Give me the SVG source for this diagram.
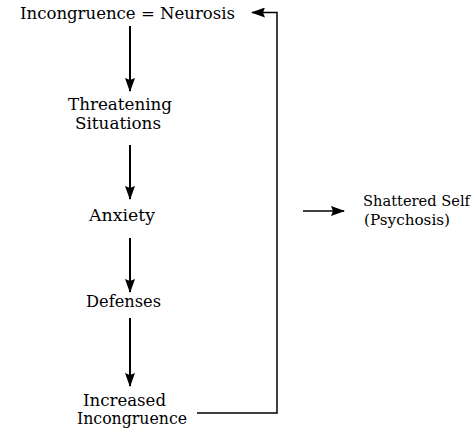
<svg xmlns="http://www.w3.org/2000/svg" width="474" height="430" viewBox="0 0 474 430">
<style>
text{font-family:"DejaVu Serif","Liberation Serif",serif;font-size:16px;fill:#000}
.s{font-size:14.5px}
.c line,.c polyline{stroke:#000;fill:none}
</style>
<defs>
<marker id="ah" markerUnits="userSpaceOnUse" markerWidth="14" markerHeight="10" refX="13" refY="5" orient="auto">
<path d="M0,0 L14,5 L0,10 L2,5 Z" fill="#000"/>
</marker>
</defs>
<rect width="474" height="430" fill="#fff"/>
<g class="c" id="connectors">
<line x1="130" y1="26" x2="130" y2="91" stroke-width="2" marker-end="url(#ah)"/>
<line x1="130" y1="145" x2="130" y2="199" stroke-width="2" marker-end="url(#ah)"/>
<line x1="130" y1="238" x2="130" y2="292" stroke-width="2" marker-end="url(#ah)"/>
<line x1="130" y1="318" x2="130" y2="386" stroke-width="2" marker-end="url(#ah)"/>
<polyline points="197,413 277,413 277,12.5 252,12.5" stroke-width="1.5" marker-end="url(#ah)"/>
<line x1="303" y1="211" x2="344" y2="211" stroke-width="1.5" marker-end="url(#ah)"/>
</g>
<g id="n1"><text x="20" y="19" textLength="215" lengthAdjust="spacingAndGlyphs">Incongruence = Neurosis</text></g>
<g id="n2"><text x="68" y="110" textLength="104" lengthAdjust="spacingAndGlyphs">Threatening</text><text x="75" y="129" textLength="86" lengthAdjust="spacingAndGlyphs">Situations</text></g>
<g id="n3"><text x="89" y="221" textLength="66" lengthAdjust="spacingAndGlyphs">Anxiety</text></g>
<g id="n4"><text x="86" y="307" textLength="75" lengthAdjust="spacingAndGlyphs">Defenses</text></g>
<g id="n5"><text x="83" y="406" textLength="83" lengthAdjust="spacingAndGlyphs">Increased</text><text x="77" y="424" textLength="110" lengthAdjust="spacingAndGlyphs">Incongruence</text></g>
<g id="n6"><text class="s" x="363" y="206" textLength="107" lengthAdjust="spacingAndGlyphs">Shattered Self</text><text class="s" x="364" y="225" textLength="86" lengthAdjust="spacingAndGlyphs">(Psychosis)</text></g>
</svg>
